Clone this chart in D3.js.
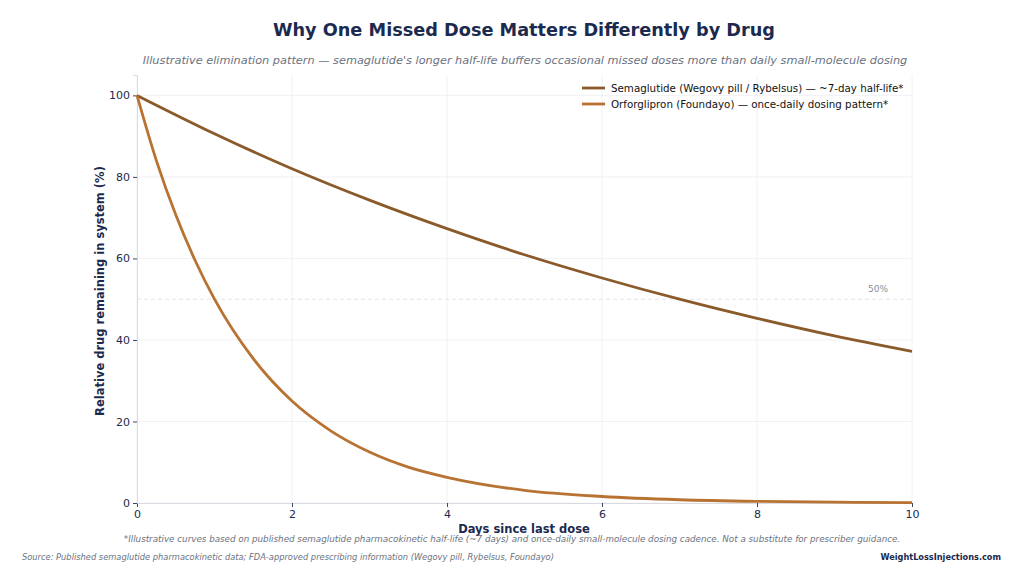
<!DOCTYPE html>
<html>
<head>
<meta charset="utf-8">
<script src="https://cdn.jsdelivr.net/npm/d3@7"></script>
<style>
  body { margin: 0; background: #fff; }
  svg { display: block; font-family: "DejaVu Sans", sans-serif; }
</style>
</head>
<body>
<div id="chart"></div>
<script>
// values
const semaDays = [0, 1, 2, 3, 4, 5, 6, 7, 8, 9, 10]
const semaValues = [100, 90.6, 82.0, 74.3, 67.3, 60.9, 55.2, 50.0, 45.3, 41.0, 37.2]
const orfoDays = [0, 0.25, 0.5, 0.75, 1, 1.5, 2, 2.5, 3, 3.5, 4, 5, 6, 7, 8, 9, 10]
const orfoValues = [100, 84, 70.7, 59.5, 50, 35.4, 25, 17.7, 12.5, 8.8, 6.3, 3.1, 1.6, 0.8, 0.4, 0.2, 0.1]
const xTicks = [0, 2, 4, 6, 8, 10]
const yTicks = [0, 20, 40, 60, 80, 100]
const seriesNames = [
  'Semaglutide (Wegovy pill / Rybelsus) — ~7-day half-life*',
  'Orforglipron (Foundayo) — once-daily dosing pattern*'
]

const width = 1024, height = 583
const navy = '#1b2a4e'
const grey = '#6b7280'
const colors = ['#8b5a2b', '#b87333']
const plot = {left: 137, right: 912, top: 75, bottom: 503}

const svg = d3.select('#chart').append('svg')
  .attr('width', width)
  .attr('height', height)

const x = d3.scaleLinear().domain([0, 10]).range([plot.left, plot.right])
const y = d3.scaleLinear().domain([0, 105]).range([plot.bottom, plot.top])

// grid
const g = svg.append('g')
g.selectAll('.gx').data(xTicks).join('line')
  .attr('x1', d => x(d)).attr('x2', d => x(d))
  .attr('y1', plot.top).attr('y2', plot.bottom)
  .style('stroke', '#eeeff2').style('stroke-width', 0.8)
g.selectAll('.gy').data(yTicks).join('line')
  .attr('x1', plot.left).attr('x2', plot.right)
  .attr('y1', d => y(d)).attr('y2', d => y(d))
  .style('stroke', '#eeeff2').style('stroke-width', 0.8)

// axes
const xAxis = d3.axisBottom(x).tickValues(xTicks).tickSize(4).tickPadding(3)
const yAxis = d3.axisLeft(y).tickValues(yTicks).tickSize(4).tickPadding(3)
const gx = svg.append('g').attr('transform', `translate(0, ${plot.bottom})`).call(xAxis)
const gy = svg.append('g').attr('transform', `translate(${plot.left}, 0)`).call(yAxis)
for (const a of [gx, gy]) {
  a.select('.domain').style('stroke', '#d9dbe0')
  a.selectAll('.tick line').style('stroke', '#3a4664')
  a.selectAll('.tick text').style('fill', navy).style('font-size', '11px')
    .style('font-family', '"DejaVu Sans", sans-serif')
}

// 50% reference
svg.append('line')
  .attr('x1', plot.left).attr('x2', plot.right)
  .attr('y1', y(50)).attr('y2', y(50))
  .style('stroke', '#dcdde1').style('stroke-width', 0.8).style('stroke-dasharray', '4,3')
svg.append('text').attr('x', 878).attr('y', y(50) - 7)
  .attr('text-anchor', 'middle')
  .style('font-size', '9px').style('fill', '#8a8f99')
  .text('50%')

// lines
const line = d3.line().curve(d3.curveMonotoneX)
const series = [
  semaDays.map((d, i) => [d, semaValues[i]]),
  orfoDays.map((d, i) => [d, orfoValues[i]])
]
series.forEach((s, i) => {
  svg.append('path')
    .attr('d', line.x(d => x(d[0])).y(d => y(d[1]))(s))
    .style('fill', 'none')
    .style('stroke', colors[i])
    .style('stroke-width', 2.8)
})

// legend
const lg = svg.append('g')
seriesNames.forEach((name, i) => {
  const yy = 88 + i * 16
  lg.append('line').attr('x1', 582).attr('x2', 605).attr('y1', yy).attr('y2', yy)
    .style('stroke', colors[i]).style('stroke-width', 2.8)
  lg.append('text').attr('x', 611).attr('y', yy + 4)
    .style('font-size', '10.3px').style('fill', '#111')
    .text(name)
})

// titles and labels
svg.append('text').attr('x', 524).attr('y', 36).attr('text-anchor', 'middle')
  .style('font-size', '17.7px').style('font-weight', 'bold').style('fill', navy)
  .text('Why One Missed Dose Matters Differently by Drug')
svg.append('text').attr('x', 525).attr('y', 64).attr('text-anchor', 'middle')
  .style('font-size', '11.3px').style('font-style', 'italic').style('fill', grey)
  .text("Illustrative elimination pattern — semaglutide's longer half-life buffers occasional missed doses more than daily small-molecule dosing")
svg.append('text').attr('transform', `translate(104, ${(plot.top + plot.bottom) / 2 + 2}) rotate(-90)`)
  .attr('text-anchor', 'middle')
  .style('font-size', '11.5px').style('font-weight', 'bold').style('fill', navy)
  .text('Relative drug remaining in system (%)')
svg.append('text').attr('x', 524).attr('y', 533).attr('text-anchor', 'middle')
  .style('font-size', '11.5px').style('font-weight', 'bold').style('fill', navy)
  .text('Days since last dose')
svg.append('text').attr('x', 512).attr('y', 542).attr('text-anchor', 'middle')
  .style('font-size', '8.75px').style('font-style', 'italic').style('fill', grey)
  .text('*Illustrative curves based on published semaglutide pharmacokinetic half-life (~7 days) and once-daily small-molecule dosing cadence. Not a substitute for prescriber guidance.')
svg.append('text').attr('x', 22).attr('y', 560)
  .style('font-size', '8.3px').style('font-style', 'italic').style('fill', grey)
  .text('Source: Published semaglutide pharmacokinetic data; FDA-approved prescribing information (Wegovy pill, Rybelsus, Foundayo)')
svg.append('text').attr('x', 1001).attr('y', 560).attr('text-anchor', 'end')
  .style('font-size', '8.2px').style('font-weight', 'bold').style('fill', navy)
  .text('WeightLossInjections.com')
</script>
</body>
</html>
